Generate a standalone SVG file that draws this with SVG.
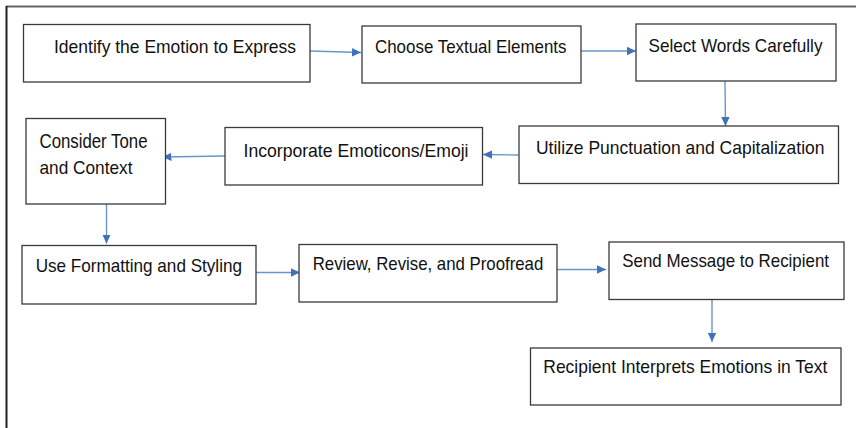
<svg xmlns="http://www.w3.org/2000/svg" width="856" height="428" viewBox="0 0 856 428">
<style>
.box{fill:#fff;stroke:#3a3a3a;stroke-width:1.3}
.t{font-family:"Liberation Sans",Arial,sans-serif;font-size:18.5px;fill:#111}
.c{stroke:#6a95cc;stroke-width:1.4;fill:none}
</style>
<defs>
<marker id="ah" markerWidth="10" markerHeight="10" refX="9" refY="5" orient="auto" markerUnits="userSpaceOnUse">
<path d="M0,0.8 L9,5 L0,9.2 Z" fill="#3f72bd"/>
</marker>
</defs>
<rect width="856" height="428" fill="#fff"/>
<line x1="6" y1="6.5" x2="856" y2="6.5" stroke="#666" stroke-width="2"/>
<line x1="6.5" y1="6" x2="6.5" y2="428" stroke="#222" stroke-width="2"/>
<g id="connectors">
<line class="c" x1="310" y1="51" x2="361" y2="52.5" marker-end="url(#ah)"/>
<line class="c" x1="581" y1="51" x2="636" y2="51" marker-end="url(#ah)"/>
<line class="c" x1="725" y1="81" x2="725.5" y2="126" marker-end="url(#ah)"/>
<line class="c" x1="518.5" y1="155" x2="483" y2="154.5" marker-end="url(#ah)"/>
<line class="c" x1="225" y1="156" x2="162.5" y2="157" marker-end="url(#ah)"/>
<line class="c" x1="106.5" y1="204" x2="106.5" y2="243.5" marker-end="url(#ah)"/>
<line class="c" x1="256" y1="272.5" x2="300" y2="272.5" marker-end="url(#ah)"/>
<line class="c" x1="557" y1="269.5" x2="606" y2="269.5" marker-end="url(#ah)"/>
<line class="c" x1="712" y1="299.5" x2="712" y2="342" marker-end="url(#ah)"/>
</g>
<g id="n1"><rect class="box" x="23.5" y="24.5" width="286.5" height="57.5"/><text class="t" x="54" y="53" textLength="242" lengthAdjust="spacingAndGlyphs">Identify the Emotion to Express</text></g>
<g id="n2"><rect class="box" x="362" y="26" width="219" height="57"/><text class="t" x="375" y="53" textLength="191.5" lengthAdjust="spacingAndGlyphs">Choose Textual Elements</text></g>
<g id="n3"><rect class="box" x="636" y="24" width="200" height="57"/><text class="t" x="648.5" y="52" textLength="174" lengthAdjust="spacingAndGlyphs">Select Words Carefully</text></g>
<g id="n4"><rect class="box" x="519" y="126" width="319.5" height="57.5"/><text class="t" x="536" y="154" textLength="288.5" lengthAdjust="spacingAndGlyphs">Utilize Punctuation and Capitalization</text></g>
<g id="n5"><rect class="box" x="225" y="127.5" width="257.5" height="57.5"/><text class="t" x="243.5" y="156.5" textLength="225" lengthAdjust="spacingAndGlyphs">Incorporate Emoticons/Emoji</text></g>
<g id="n6"><rect class="box" x="26" y="118.5" width="139.5" height="85.5"/><text class="t" x="39.5" y="147.5" style="font-size:21px" textLength="108" lengthAdjust="spacingAndGlyphs">Consider Tone</text><text class="t" x="39.5" y="173.5" textLength="93" lengthAdjust="spacingAndGlyphs">and Context</text></g>
<g id="n7"><rect class="box" x="22" y="245.5" width="234" height="58.5"/><text class="t" x="35.7" y="271.5" textLength="206.3" lengthAdjust="spacingAndGlyphs">Use Formatting and Styling</text></g>
<g id="n8"><rect class="box" x="299" y="244.5" width="258" height="57.5"/><text class="t" x="312.7" y="270" textLength="230.6" lengthAdjust="spacingAndGlyphs">Review, Revise, and Proofread</text></g>
<g id="n9"><rect class="box" x="609" y="242" width="235" height="57.5"/><text class="t" x="622.3" y="266.5" textLength="206.7" lengthAdjust="spacingAndGlyphs">Send Message to Recipient</text></g>
<g id="n10"><rect class="box" x="530.5" y="348" width="310.5" height="57"/><text class="t" x="543.3" y="372.5" textLength="284" lengthAdjust="spacingAndGlyphs">Recipient Interprets Emotions in Text</text></g>
</svg>
